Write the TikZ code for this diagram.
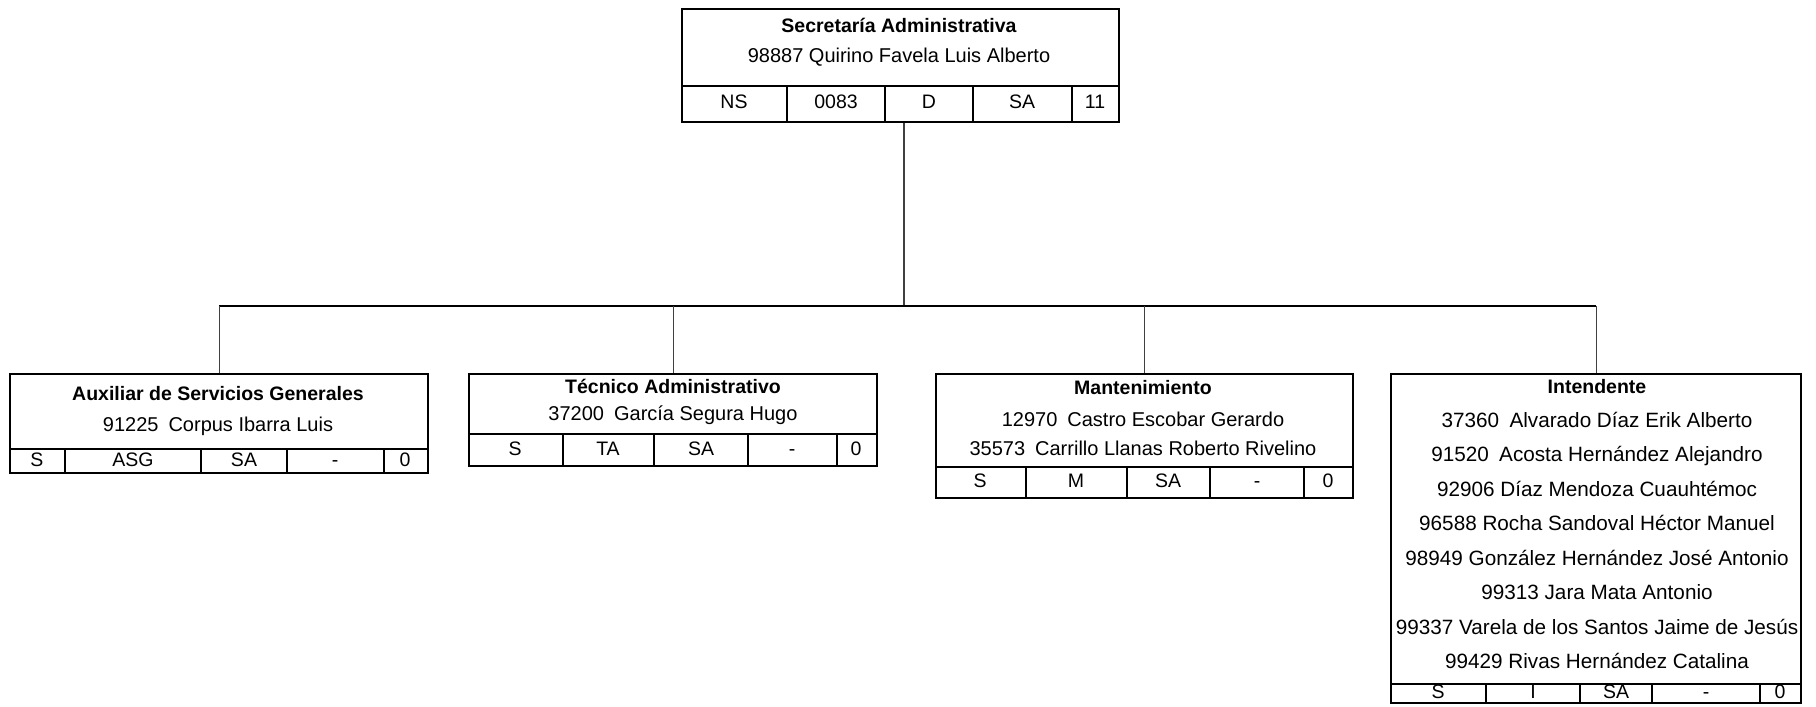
\documentclass[tikz,border=0pt]{standalone}
\usepackage{fontspec}
\setmainfont{Liberation Sans}
\usetikzlibrary{positioning}

\tikzset{
  box/.style={draw=black,line width=2.4pt,anchor=north west,inner sep=0pt},
  cell/.style={draw=black,line width=2.2pt},
  txt/.style={inner sep=0pt,text height=14pt,text depth=4pt,font=\fontsize{19.5}{23}\selectfont},
  nm/.style={txt,font=\fontsize{20}{24}\selectfont},
  intnm/.style={txt,font=\fontsize{20.7}{24}\selectfont},
  head/.style={txt,font=\fontsize{19.5}{23}\selectfont\bfseries},
  link/.style={draw=black!75,line width=1.3pt},
  bar/.style={draw=black,line width=2pt}
}

\begin{document}
\begin{tikzpicture}[x=1pt,y=-1pt]
\useasboundingbox (0,0) rectangle (1816,707);

\node[box,minimum width=437pt,minimum height=113pt] (sec) at (681,8) {};
\draw[cell] (681,86) -- (1118,86);
\draw[cell] (787,86) -- (787,121);
\draw[cell] (885,86) -- (885,121);
\draw[cell] (973,86) -- (973,121);
\draw[cell] (1072,86) -- (1072,121);
\node[head] (sec-t) at (899,27) {Secretaría Administrativa};
\node[nm] (sec-n) at (899,57) {98887 Quirino Favela Luis Alberto};
\node[txt] (sec-c1) at (734,103) {NS};
\node[txt] (sec-c2) at (836,103) {0083};
\node[txt] (sec-c3) at (929,103) {D};
\node[txt] (sec-c4) at (1022,103) {SA};
\node[txt] (sec-c5) at (1095,103) {11};

\node[box,minimum width=418pt,minimum height=99pt] (aux) at (9,373) {};
\draw[cell] (9,449) -- (427,449);
\draw[cell] (65,449) -- (65,472);
\draw[cell] (201,449) -- (201,472);
\draw[cell] (287,449) -- (287,472);
\draw[cell] (384,449) -- (384,472);
\node[head] (aux-t) at (218,395) {Auxiliar de Servicios Generales};
\node[nm] (aux-n) at (218,426) {91225\enspace Corpus Ibarra Luis};
\node[txt] (aux-c1) at (37,461) {S};
\node[txt] (aux-c2) at (133,461) {ASG};
\node[txt] (aux-c3) at (244,461) {SA};
\node[txt] (aux-c4) at (335,461) {-};
\node[txt] (aux-c5) at (405,461) {0};

\node[box,minimum width=408pt,minimum height=92pt] (tec) at (468,373) {};
\draw[cell] (468,434) -- (876,434);
\draw[cell] (563,434) -- (563,465);
\draw[cell] (654,434) -- (654,465);
\draw[cell] (748,434) -- (748,465);
\draw[cell] (837,434) -- (837,465);
\node[head] (tec-t) at (673,388) {Técnico Administrativo};
\node[nm] (tec-n) at (673,415) {37200\enspace García Segura Hugo};
\node[txt] (tec-c1) at (515,450) {S};
\node[txt] (tec-c2) at (608,450) {TA};
\node[txt] (tec-c3) at (701,450) {SA};
\node[txt] (tec-c4) at (792,450) {-};
\node[txt] (tec-c5) at (856,450) {0};

\node[box,minimum width=417pt,minimum height=124pt] (man) at (935,373) {};
\draw[cell] (935,467) -- (1352,467);
\draw[cell] (1026,467) -- (1026,497);
\draw[cell] (1127,467) -- (1127,497);
\draw[cell] (1210,467) -- (1210,497);
\draw[cell] (1304,467) -- (1304,497);
\node[head] (man-t) at (1143,389) {Mantenimiento};
\node[nm] (man-n1) at (1143,421) {12970\enspace Castro Escobar Gerardo};
\node[nm] (man-n2) at (1143,450) {35573\enspace Carrillo Llanas Roberto Rivelino};
\node[txt] (man-c1) at (980,482) {S};
\node[txt] (man-c2) at (1076,482) {M};
\node[txt] (man-c3) at (1168,482) {SA};
\node[txt] (man-c4) at (1257,482) {-};
\node[txt] (man-c5) at (1328,482) {0};

\node[box,minimum width=410pt,minimum height=329pt] (int) at (1390,373) {};
\draw[cell] (1390,684) -- (1800,684);
\draw[cell] (1486,684) -- (1486,702);
\draw[cell] (1580,684) -- (1580,702);
\draw[cell] (1652,684) -- (1652,702);
\draw[cell] (1760,684) -- (1760,702);
\node[head] (int-t) at (1597,388) {Intendente};
\node[intnm] (int-n1) at (1597,422) {37360\enspace Alvarado Díaz Erik Alberto};
\node[intnm] (int-n2) at (1597,456) {91520\enspace Acosta Hernández Alejandro};
\node[intnm] (int-n3) at (1597,491) {92906 Díaz Mendoza Cuauhtémoc};
\node[intnm] (int-n4) at (1597,525) {96588 Rocha Sandoval Héctor Manuel};
\node[intnm] (int-n5) at (1597,560) {98949 González Hernández José Antonio};
\node[intnm] (int-n6) at (1597,594) {99313 Jara Mata Antonio};
\node[intnm] (int-n7) at (1597,629) {99337 Varela de los Santos Jaime de Jesús};
\node[intnm] (int-n8) at (1597,663) {99429 Rivas Hernández Catalina};
\node[txt] (int-c1) at (1438,693) {S};
\node[txt] (int-c2) at (1533,693) {I};
\node[txt] (int-c3) at (1616,693) {SA};
\node[txt] (int-c4) at (1706,693) {-};
\node[txt] (int-c5) at (1780,693) {0};

\coordinate (hub) at (904,306);
\draw[link] (sec.south -| hub) -- (hub);
\draw[bar] (aux.north |- hub) -- (int.north |- hub);
\draw[link] (aux.north |- hub) -- (aux.north);
\draw[link] (tec.north |- hub) -- (tec.north);
\draw[link] (man.north |- hub) -- (man.north);
\draw[link] (int.north |- hub) -- (int.north);
\end{tikzpicture}
\end{document}
